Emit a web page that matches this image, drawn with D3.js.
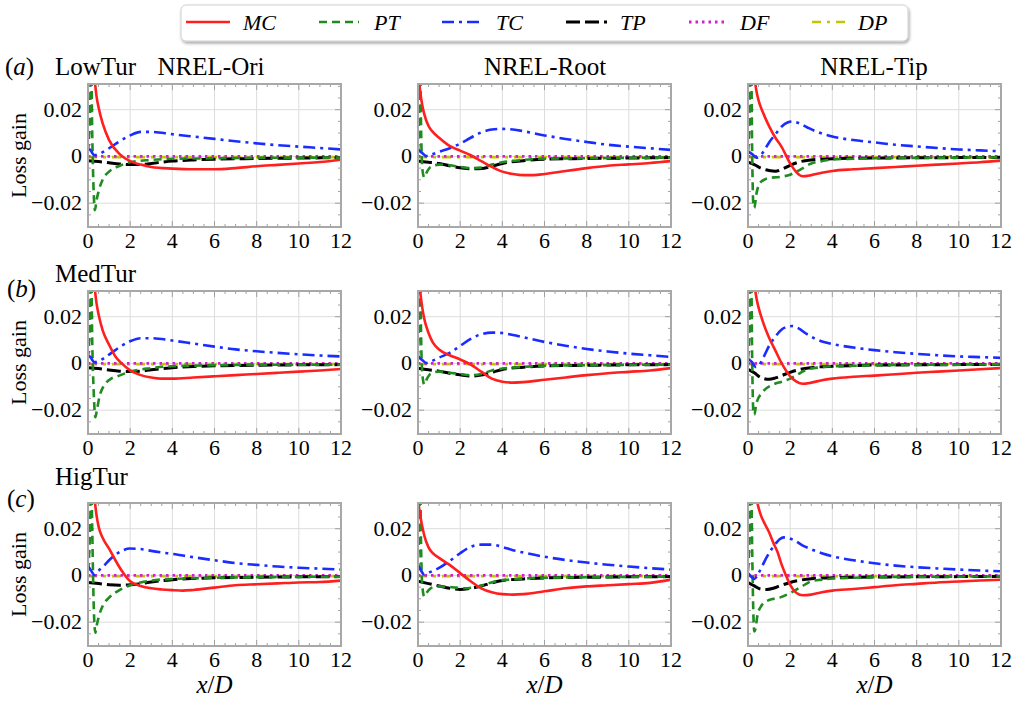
<!DOCTYPE html>
<html><head><meta charset="utf-8">
<script src="https://cdn.jsdelivr.net/npm/d3@7"></script>
<style>body{margin:0;background:#fff}svg{display:block}text{font-family:"Liberation Serif","Times New Roman",serif;fill:#000}</style>
</head><body><svg id="c" width="1016" height="703"></svg>
<script>
// ---------------- data ----------------
const seriesNames = ["MC","PT","TC","TP","DF","DP"];
const rowNames = ["LowTur","MedTur","HigTur"];
const rowLetters = ["a","b","c"];
const colNames = ["NREL-Ori","NREL-Root","NREL-Tip"];
const xTicks = [0,2,4,6,8,10,12];
const yTicks = [-0.02,0,0.02];
const yTickLabels = ["\u22120.02","0","0.02"];
const zeroLine = [[0,0],[12,0]];
const dpLine = [[0,-0.0003],[12,-0.0003]];

// Row a (LowTur)
const a1_MC=[[0.2,0.05],[0.3,0.035],[0.4,0.026],[0.5,0.021],[0.7,0.014],[1,0.007],[1.5,0.001],[2,-0.002],[2.5,-0.0035],[3,-0.0045],[4,-0.0052],[5,-0.0055],[6,-0.0055],[7,-0.005],[8,-0.0042],[9,-0.0036],[10,-0.003],[11,-0.0024],[12,-0.0014]];
const a1_PT=[[0,0.002],[0.1,0.02],[0.15,0.04],[0.2,0.01],[0.25,-0.01],[0.33,-0.023],[0.4,-0.019],[0.5,-0.015],[0.7,-0.0098],[1,-0.0065],[1.5,-0.004],[2,-0.0025],[3,-0.0015],[4,-0.001],[6,-0.0008],[8,-0.0006],[12,-0.0005]];
const a1_TC=[[0,0.003],[0.1,0.003],[0.2,0.0015],[0.3,0.0005],[0.5,0.001],[1,0.0035],[1.5,0.0065],[2,0.009],[2.5,0.0105],[3,0.0105],[4,0.0095],[5,0.0085],[6,0.0075],[7,0.0065],[8,0.0056],[9,0.0048],[10,0.0042],[11,0.0036],[12,0.003]];
const a1_TP=[[0,-0.0018],[0.5,-0.0022],[1,-0.0027],[1.5,-0.0032],[2,-0.0035],[2.5,-0.0035],[3,-0.003],[4,-0.002],[5,-0.0015],[6,-0.0012],[8,-0.0009],[10,-0.0007],[12,-0.0005]];

const a2_MC=[[0.05,0.032],[0.1,0.028],[0.2,0.022],[0.3,0.018],[0.5,0.013],[0.7,0.0105],[1,0.008],[1.5,0.0045],[2,0.0025],[2.5,0.0005],[3,-0.002],[3.5,-0.0045],[4,-0.0065],[4.5,-0.0075],[5,-0.008],[5.5,-0.008],[6,-0.0075],[7,-0.0062],[8,-0.005],[9,-0.004],[10,-0.0034],[11,-0.0028],[12,-0.002]];
const a2_PT=[[0,0.002],[0.05,0.015],[0.1,0.04],[0.15,0.01],[0.2,-0.005],[0.3,-0.009],[0.4,-0.007],[0.6,-0.0045],[1,-0.0035],[1.5,-0.0038],[2,-0.0045],[2.5,-0.005],[3,-0.0048],[3.5,-0.0035],[4,-0.0025],[5,-0.0015],[6,-0.001],[8,-0.0008],[10,-0.0006],[12,-0.0005]];
const a2_TC=[[0,0.003],[0.2,0.0015],[0.4,0.0002],[0.7,0.001],[1,0.002],[1.5,0.0035],[2,0.0055],[2.5,0.008],[3,0.0103],[3.5,0.0115],[4,0.0118],[4.5,0.0115],[5,0.0108],[6,0.009],[7,0.0075],[8,0.0062],[9,0.005],[10,0.0042],[11,0.0035],[12,0.0028]];
const a2_TP=[[0,-0.002],[0.5,-0.0025],[1,-0.003],[1.5,-0.004],[2,-0.0048],[2.5,-0.0053],[3,-0.0052],[3.5,-0.0042],[4,-0.003],[5,-0.0018],[6,-0.0012],[8,-0.0009],[10,-0.0007],[12,-0.0005]];

const a3_MC=[[0.3,0.034],[0.4,0.028],[0.5,0.024],[0.7,0.019],[1,0.013],[1.3,0.008],[1.6,0.004],[2,-0.003],[2.3,-0.0068],[2.6,-0.0085],[3,-0.008],[3.5,-0.007],[4,-0.0062],[5,-0.0055],[6,-0.005],[7,-0.0045],[8,-0.004],[9,-0.0035],[10,-0.003],[11,-0.0025],[12,-0.0018]];
const a3_PT=[[0,0.002],[0.05,0.01],[0.1,0.03],[0.15,0.04],[0.2,0.0],[0.25,-0.02],[0.3,-0.022],[0.4,-0.016],[0.6,-0.011],[1,-0.0092],[1.5,-0.0088],[2,-0.0078],[2.5,-0.0055],[3,-0.003],[3.5,-0.002],[4,-0.0013],[5,-0.001],[6,-0.0008],[8,-0.0006],[10,-0.0005],[12,-0.0004]];
const a3_TC=[[0,0.002],[0.2,0.001],[0.4,-0.0005],[0.6,0.0005],[0.8,0.003],[1,0.006],[1.3,0.0095],[1.6,0.0128],[1.9,0.0146],[2.1,0.015],[2.4,0.0143],[2.8,0.0125],[3.2,0.0108],[3.6,0.0095],[4,0.0085],[5,0.007],[6,0.006],[7,0.005],[8,0.0043],[9,0.0036],[10,0.003],[11,0.0026],[12,0.0022]];
const a3_TP=[[0,-0.0025],[0.3,-0.0035],[0.6,-0.005],[1,-0.006],[1.3,-0.0063],[1.6,-0.0055],[2,-0.0038],[2.5,-0.0022],[3,-0.0015],[4,-0.001],[5,-0.0008],[6,-0.0007],[8,-0.0006],[10,-0.0005],[12,-0.0004]];

// Row b (MedTur)
const b1_MC=[[0.3,0.034],[0.4,0.026],[0.5,0.021],[0.7,0.014],[1,0.008],[1.3,0.003],[1.6,0],[2,-0.003],[2.5,-0.005],[3,-0.006],[3.5,-0.0065],[4,-0.0065],[5,-0.006],[6,-0.0055],[7,-0.005],[8,-0.0045],[9,-0.004],[10,-0.0035],[11,-0.003],[12,-0.0024]];
const b1_PT=[[0,0.002],[0.1,0.02],[0.15,0.04],[0.2,0.01],[0.27,-0.012],[0.35,-0.023],[0.42,-0.02],[0.55,-0.014],[0.8,-0.009],[1.1,-0.0065],[1.4,-0.0055],[2,-0.0035],[3,-0.002],[4,-0.0012],[6,-0.0008],[8,-0.0006],[12,-0.0005]];
const b1_TC=[[0,0.003],[0.1,0.003],[0.2,0.0015],[0.3,0.0005],[0.5,0.001],[1,0.0038],[1.5,0.007],[2,0.0095],[2.5,0.0108],[3,0.0108],[4,0.0098],[5,0.0085],[6,0.0072],[7,0.006],[8,0.0052],[9,0.0045],[10,0.0039],[11,0.0034],[12,0.003]];
const b1_TP=[[0,-0.0018],[0.5,-0.0022],[1,-0.0028],[1.5,-0.0033],[2,-0.0035],[2.5,-0.0033],[3,-0.0027],[4,-0.0018],[5,-0.0013],[6,-0.001],[8,-0.0008],[10,-0.0006],[12,-0.0005]];

const b2_MC=[[0.1,0.031],[0.2,0.024],[0.3,0.019],[0.5,0.013],[0.7,0.009],[1,0.006],[1.5,0.0035],[2,0.0017],[2.5,-0.0005],[3,-0.0035],[3.5,-0.0065],[4,-0.0078],[4.5,-0.0082],[5,-0.008],[6,-0.007],[7,-0.006],[8,-0.005],[9,-0.0042],[10,-0.0036],[11,-0.003],[12,-0.002]];
const b2_PT=[[0,0.002],[0.05,0.02],[0.1,0.04],[0.15,0.01],[0.2,-0.004],[0.3,-0.009],[0.4,-0.007],[0.6,-0.0045],[1,-0.0035],[1.5,-0.004],[2,-0.0045],[2.5,-0.005],[3,-0.0045],[3.5,-0.003],[4,-0.0022],[5,-0.0015],[6,-0.001],[8,-0.0008],[10,-0.0006],[12,-0.0005]];
const b2_TC=[[0,0.003],[0.2,0.0015],[0.4,0.0002],[0.7,0.0012],[1,0.0025],[1.5,0.0045],[2,0.0075],[2.5,0.0105],[3,0.0125],[3.5,0.0132],[4,0.013],[4.5,0.0122],[5,0.0112],[6,0.0092],[7,0.0076],[8,0.0062],[9,0.0051],[10,0.0042],[11,0.0035],[12,0.0028]];
const b2_TP=[[0,-0.002],[0.5,-0.0027],[1,-0.0033],[1.5,-0.0042],[2,-0.0049],[2.5,-0.0054],[3,-0.005],[3.5,-0.0038],[4,-0.0026],[5,-0.0016],[6,-0.0011],[8,-0.0008],[10,-0.0006],[12,-0.0005]];

const b3_MC=[[0.3,0.034],[0.4,0.028],[0.5,0.024],[0.7,0.018],[1,0.011],[1.3,0.0055],[1.6,0],[2,-0.0055],[2.3,-0.0078],[2.6,-0.0087],[3,-0.0082],[3.5,-0.0072],[4,-0.0065],[5,-0.0057],[6,-0.0052],[7,-0.0046],[8,-0.004],[9,-0.0035],[10,-0.003],[11,-0.0025],[12,-0.002]];
const b3_PT=[[0,0.002],[0.05,0.01],[0.1,0.03],[0.15,0.04],[0.2,0.0],[0.25,-0.02],[0.3,-0.022],[0.4,-0.017],[0.7,-0.0122],[1.2,-0.009],[1.6,-0.0078],[2,-0.0065],[2.4,-0.0045],[2.8,-0.0026],[3.5,-0.0016],[4,-0.0012],[5,-0.001],[6,-0.0008],[8,-0.0006],[10,-0.0005],[12,-0.0004]];
const b3_TC=[[0,0.002],[0.2,0.0005],[0.35,-0.0015],[0.5,-0.001],[0.7,0.002],[1,0.0075],[1.3,0.0115],[1.6,0.0145],[1.9,0.0158],[2.1,0.016],[2.4,0.015],[2.8,0.0125],[3.2,0.0105],[3.6,0.0092],[4,0.0083],[5,0.0068],[6,0.0057],[7,0.0048],[8,0.0041],[9,0.0035],[10,0.003],[11,0.0027],[12,0.0024]];
const b3_TP=[[0,-0.0025],[0.3,-0.004],[0.6,-0.006],[1,-0.0068],[1.3,-0.0062],[1.6,-0.0052],[2,-0.0038],[2.5,-0.0025],[3,-0.0018],[4,-0.0012],[5,-0.0009],[6,-0.0007],[8,-0.0006],[10,-0.0005],[12,-0.0004]];

// Row c (HigTur)
const c1_MC=[[0.3,0.034],[0.4,0.026],[0.5,0.021],[0.7,0.016],[1,0.0115],[1.3,0.0065],[1.6,0.002],[2,-0.0025],[2.5,-0.0045],[3,-0.0055],[3.5,-0.006],[4,-0.0063],[4.5,-0.0065],[5,-0.0062],[6,-0.0052],[7,-0.0042],[8,-0.0038],[9,-0.0034],[10,-0.003],[11,-0.0028],[12,-0.0022]];
const c1_PT=[[0,0.002],[0.05,0.008],[0.1,0.02],[0.15,0.04],[0.2,0.02],[0.25,-0.005],[0.3,-0.02],[0.35,-0.0245],[0.4,-0.022],[0.5,-0.018],[0.7,-0.013],[1,-0.0095],[1.4,-0.0068],[2,-0.0042],[2.5,-0.003],[3,-0.0022],[4,-0.0015],[5,-0.0012],[6,-0.001],[8,-0.0008],[10,-0.0006],[12,-0.0005]];
const c1_TC=[[0,0.004],[0.15,0.002],[0.3,0.0002],[0.5,0.002],[0.8,0.0045],[1,0.0065],[1.3,0.0088],[1.6,0.0105],[2,0.0115],[2.5,0.0113],[3,0.0105],[3.5,0.0098],[4,0.0092],[5,0.0078],[6,0.0065],[7,0.0053],[8,0.0045],[9,0.0038],[10,0.0033],[11,0.0029],[12,0.0025]];
const c1_TP=[[0,-0.003],[0.5,-0.0035],[1,-0.004],[1.5,-0.0042],[2,-0.004],[2.5,-0.0035],[3,-0.0028],[4,-0.0018],[5,-0.0013],[6,-0.001],[8,-0.0008],[10,-0.0006],[12,-0.0005]];

const c2_MC=[[0.02,0.031],[0.1,0.026],[0.2,0.021],[0.3,0.017],[0.5,0.012],[0.7,0.0095],[1,0.0075],[1.5,0.0045],[2,0.001],[2.5,-0.0025],[3,-0.0055],[3.5,-0.0072],[4,-0.008],[4.5,-0.0082],[5,-0.008],[6,-0.0068],[7,-0.0055],[8,-0.0047],[9,-0.0042],[10,-0.0037],[11,-0.0032],[12,-0.0018]];
const c2_PT=[[0,0.002],[0.05,0.02],[0.1,0.04],[0.15,0.01],[0.2,-0.004],[0.3,-0.009],[0.4,-0.0075],[0.6,-0.0055],[0.9,-0.0047],[1.3,-0.0048],[1.8,-0.0052],[2.2,-0.0055],[2.7,-0.005],[3.2,-0.0038],[3.7,-0.0025],[4.5,-0.0017],[6,-0.001],[8,-0.0008],[10,-0.0006],[12,-0.0005]];
const c2_TC=[[0,0.0045],[0.15,0.002],[0.3,0.0003],[0.6,0.0015],[1,0.0032],[1.5,0.0062],[2,0.0095],[2.5,0.0122],[3,0.0132],[3.5,0.0132],[4,0.0122],[4.5,0.0108],[5,0.0098],[6,0.008],[7,0.0066],[8,0.0055],[9,0.0046],[10,0.0038],[11,0.0031],[12,0.0025]];
const c2_TP=[[0,-0.0025],[0.5,-0.0035],[1,-0.0045],[1.5,-0.0055],[2,-0.006],[2.5,-0.0055],[3,-0.0045],[3.5,-0.0032],[4,-0.0022],[5,-0.0015],[6,-0.0011],[8,-0.0008],[10,-0.0006],[12,-0.0005]];

const c3_MC=[[0.4,0.033],[0.5,0.029],[0.6,0.026],[0.8,0.022],[1,0.0185],[1.2,0.014],[1.4,0.01],[1.6,0.0045],[1.8,0.0],[2,-0.004],[2.3,-0.0075],[2.6,-0.0085],[3,-0.0082],[3.5,-0.0072],[4,-0.0065],[5,-0.0058],[6,-0.005],[7,-0.0042],[8,-0.0036],[9,-0.003],[10,-0.0026],[11,-0.0022],[12,-0.0018]];
const c3_PT=[[0,0.002],[0.05,0.01],[0.1,0.03],[0.15,0.04],[0.2,0.01],[0.25,-0.015],[0.3,-0.024],[0.35,-0.023],[0.45,-0.017],[0.6,-0.0135],[0.8,-0.0115],[1,-0.0105],[1.5,-0.0095],[2,-0.0075],[2.5,-0.005],[3,-0.0025],[3.5,-0.0018],[4,-0.0013],[5,-0.001],[6,-0.0008],[8,-0.0006],[10,-0.0005],[12,-0.0004]];
const c3_TC=[[0,0.001],[0.15,-0.0005],[0.3,-0.0015],[0.5,0.001],[0.7,0.0045],[0.9,0.008],[1.1,0.011],[1.3,0.0135],[1.5,0.0155],[1.7,0.0163],[1.9,0.016],[2.2,0.015],[2.6,0.0128],[3,0.0112],[3.5,0.0095],[4,0.0082],[5,0.0065],[6,0.0052],[7,0.0042],[8,0.0035],[9,0.003],[10,0.0025],[11,0.0021],[12,0.0018]];
const c3_TP=[[0,-0.003],[0.3,-0.0045],[0.6,-0.0058],[0.9,-0.006],[1.2,-0.0055],[1.5,-0.0045],[2,-0.003],[2.5,-0.002],[3,-0.0014],[4,-0.001],[5,-0.0008],[6,-0.0007],[8,-0.0006],[10,-0.0005],[12,-0.0004]];

const panelData = [
  [{MC:a1_MC,PT:a1_PT,TC:a1_TC,TP:a1_TP},{MC:a2_MC,PT:a2_PT,TC:a2_TC,TP:a2_TP},{MC:a3_MC,PT:a3_PT,TC:a3_TC,TP:a3_TP}],
  [{MC:b1_MC,PT:b1_PT,TC:b1_TC,TP:b1_TP},{MC:b2_MC,PT:b2_PT,TC:b2_TC,TP:b2_TP},{MC:b3_MC,PT:b3_PT,TC:b3_TC,TP:b3_TP}],
  [{MC:c1_MC,PT:c1_PT,TC:c1_TC,TP:c1_TP},{MC:c2_MC,PT:c2_PT,TC:c2_TC,TP:c2_TP},{MC:c3_MC,PT:c3_PT,TC:c3_TC,TP:c3_TP}]
];

// ---------------- styles / layout ----------------
const styles = {
  MC:{color:"#ff1f1f",dash:null,w:2.6},
  PT:{color:"#1e8c1e",dash:"8,5",w:2.6},
  TC:{color:"#1a2cff",dash:"12,5,3,5",w:2.6},
  TP:{color:"#000000",dash:"14,5",w:3},
  DF:{color:"#d21ed2",dash:"2.5,4",w:2.8},
  DP:{color:"#c4c400",dash:"9,6,3,6",w:2.6}
};
const colLeft=[88,418,748], rowTop=[84,291,503];
const PW=253, PH=143;
const svg=d3.select("#c");
const defs=svg.append("defs");

// legend
const lg=svg.append("g");
const flt=defs.append("filter").attr("id","sh").attr("x","-5%").attr("y","-30%").attr("width","110%").attr("height","170%");
flt.append("feDropShadow").attr("dx",1).attr("dy",2).attr("stdDeviation",1.5).attr("flood-color","#000").attr("flood-opacity",0.35);
lg.append("rect").attr("x",181).attr("y",5).attr("width",727).attr("height",36).attr("rx",5)
  .attr("fill","#fff").attr("stroke","#d0d0d0").attr("stroke-width",1).attr("filter","url(#sh)");
const legLineX=[[186,230],[319,359],[442,482],[566,607],[689,727],[812,846]];
const legTextX=[243,374,496,620,740,858];
seriesNames.forEach((s,i)=>{
  const st=styles[s];
  lg.append("line").attr("x1",legLineX[i][0]).attr("x2",legLineX[i][1]).attr("y1",22).attr("y2",22)
    .attr("stroke",st.color).attr("stroke-width",st.w).attr("stroke-dasharray",st.dash);
  lg.append("text").attr("x",legTextX[i]).attr("y",30).attr("font-size",22).attr("font-style","italic").text(s);
});

const x=d3.scaleLinear().domain([0,12]).range([0,PW]);
const y=d3.scaleLinear().domain([-0.0302,0.031]).range([PH,0]);
const line=d3.line().x(d=>x(d[0])).y(d=>y(d[1])).curve(d3.curveMonotoneX);
const xMinor=d3.range(0,12.001,0.5), yMinor=d3.range(-0.03,0.0301,0.005);

for(let r=0;r<3;r++){
  for(let c=0;c<3;c++){
    const g=svg.append("g").attr("transform",`translate(${colLeft[c]},${rowTop[r]})`);
    const id=`clip${r}${c}`;
    defs.append("clipPath").attr("id",id).append("rect").attr("width",PW).attr("height",PH);
    // grid
    g.selectAll(".gx").data(xTicks.slice(1,-1)).join("line").attr("x1",d=>x(d)).attr("x2",d=>x(d)).attr("y1",0).attr("y2",PH).attr("stroke","#dcdcdc").attr("stroke-width",1);
    g.selectAll(".gy").data(yTicks).join("line").attr("y1",d=>y(d)).attr("y2",d=>y(d)).attr("x1",0).attr("x2",PW).attr("stroke","#dcdcdc").attr("stroke-width",1);
    // ticks (inward, all sides)
    const tk=g.append("g").attr("stroke","#a0a0a0").attr("stroke-width",1);
    xMinor.forEach(v=>{const L=(Math.abs(v%2)<1e-9)?6:3;
      tk.append("line").attr("x1",x(v)).attr("x2",x(v)).attr("y1",PH).attr("y2",PH-L);
      tk.append("line").attr("x1",x(v)).attr("x2",x(v)).attr("y1",0).attr("y2",L);});
    yMinor.forEach(v=>{const L=(Math.abs(Math.round(v*1000))%20===0)?6:3;
      tk.append("line").attr("y1",y(v)).attr("y2",y(v)).attr("x1",0).attr("x2",L);
      tk.append("line").attr("y1",y(v)).attr("y2",y(v)).attr("x1",PW).attr("x2",PW-L);});
    // lines
    const lines=g.append("g").attr("clip-path",`url(#${id})`);
    const pd=panelData[r][c];
    const draw=(data,s)=>{const st=styles[s];
      lines.append("path").datum(data).attr("d",line).attr("fill","none").attr("stroke",st.color)
        .attr("stroke-width",st.w).attr("stroke-dasharray",st.dash).attr("stroke-linejoin","round");};
    draw(dpLine,"DP"); draw(zeroLine,"DF");
    draw(pd.TP,"TP"); draw(pd.PT,"PT"); draw(pd.TC,"TC"); draw(pd.MC,"MC");
    // frame
    g.append("rect").attr("width",PW).attr("height",PH).attr("fill","none").attr("stroke","#a8a8a8").attr("stroke-width",2);
    // tick labels
    g.selectAll(".xl").data(xTicks).join("text").attr("x",d=>x(d)).attr("y",PH+21).attr("text-anchor","middle").attr("font-size",22).text(d=>d);
    g.selectAll(".yl").data(yTicks).join("text").attr("x",-6).attr("y",d=>y(d)+7).attr("text-anchor","end").attr("font-size",22).text((d,i)=>yTickLabels[i]);
    if(c===0){
      g.append("text").attr("transform",`translate(-62,${PH/2}) rotate(-90)`).attr("text-anchor","middle").attr("font-size",22).text("Loss gain");
    }
    if(r===2){
      const t=g.append("text").attr("x",PW/2).attr("y",PH+47).attr("text-anchor","middle").attr("font-size",25);
      t.append("tspan").attr("font-style","italic").text("x");
      t.append("tspan").text("/");
      t.append("tspan").attr("font-style","italic").text("D");
    }
  }
}
// titles
const colTitleX=[211,545,874];
colNames.forEach((n,i)=>svg.append("text").attr("x",colTitleX[i]).attr("y",75).attr("text-anchor","middle").attr("font-size",25).text(n));
const rowTitleY=[75,282,485], letterY=[75,297,507], letterX=[5,7,7];
rowNames.forEach((n,i)=>{
  svg.append("text").attr("x",55).attr("y",rowTitleY[i]).attr("font-size",25).text(n);
  const t=svg.append("text").attr("x",letterX[i]).attr("y",letterY[i]).attr("font-size",25);
  t.append("tspan").text("(");
  t.append("tspan").attr("font-style","italic").text(rowLetters[i]);
  t.append("tspan").text(")");
});
</script></body></html>
